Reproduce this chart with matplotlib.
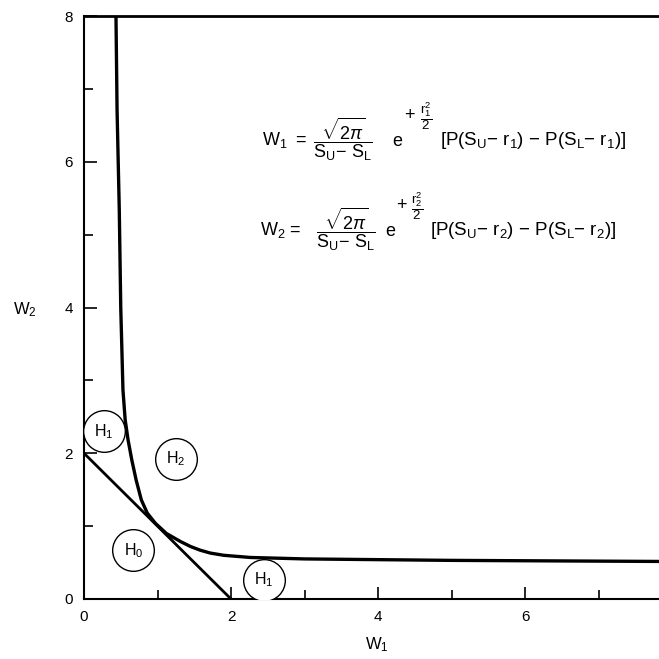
import matplotlib
matplotlib.use('Agg')
import matplotlib.pyplot as plt
from matplotlib.ticker import FixedLocator

plt.rcParams['font.family'] = ['Liberation Sans', 'DejaVu Sans']
plt.rcParams['mathtext.fontset'] = 'custom'
plt.rcParams['mathtext.rm'] = 'Liberation Sans'
plt.rcParams['mathtext.it'] = 'Liberation Sans:italic'
plt.rcParams['mathtext.sf'] = 'Liberation Sans'

# boundary curve
w1_curve = [0.435, 0.45, 0.48, 0.50, 0.53, 0.56, 0.60, 0.65, 0.71, 0.78,
            0.86, 0.97, 1.12, 1.31, 1.45, 1.58, 1.72, 1.90, 2.26, 3.0, 5.0,
            7.9]
w2_curve = [8.0, 6.7, 5.34, 4.0, 2.87, 2.46, 2.18, 1.91, 1.63, 1.36,
            1.18, 1.04, 0.90, 0.79, 0.72, 0.67, 0.63, 0.60, 0.57, 0.55, 0.53,
            0.515]

# straight line W1 + W2 = 2
w1_line = [0, 2]
w2_line = [2, 0]

# region labels
region_text = [r'H$_1$', r'H$_2$', r'H$_0$', r'H$_1$']
region_x = [0.27, 1.25, 0.67, 2.45]
region_y = [2.30, 1.92, 0.67, 0.26]

x_major = [0, 2, 4, 6]
x_minor = [1, 3, 5, 7]
y_major = [0, 2, 4, 6, 8]
y_minor = [1, 3, 5, 7]

fig = plt.figure(figsize=(6.59, 6.59), dpi=100)
ax = fig.add_axes([84 / 659, 60 / 659, 8 * 73.5 / 659, 583 / 659])

ax.plot(w1_curve, w2_curve, color='black', lw=2.4, solid_joinstyle='round')
ax.plot(w1_line, w2_line, color='black', lw=2.0)

ax.plot(region_x, region_y, 'o', ms=30, mfc='white', mec='black', mew=1.0,
        zorder=3)
for t, x, y in zip(region_text, region_x, region_y):
    ax.text(x, y, t, ha='center', va='center', fontsize=11.5, zorder=4)


def put(px, py, s, size, ha='left', va='baseline'):
    # place text by pixel position (from top-left of the figure)
    fig.text(px / 659, 1 - py / 659, s, fontsize=size, ha=ha, va=va)


def equation(n, xs, base):
    put(xs[0], base, r'W$_%d$' % n, 13)
    put(xs[1], base, '=', 13)
    put(xs[2], base - 6,
        r'$\dfrac{\sqrt{2\pi}}{\mathrm{S_U\!-\,S_L}}$', 13,
        ha='center', va='center')
    put(xs[3], base + 1, 'e', 13)
    put(xs[4], base - 29, '+', 13, ha='center', va='center')
    put(xs[5], base - 29, r'$\dfrac{\mathrm{r_%d^2}}{2}$' % n, 9.5,
        ha='center', va='center')
    put(xs[6], base,
        r'[P(S$_\mathrm{U}$− r$_%d$) − P(S$_\mathrm{L}$− r$_%d$)]' % (n, n),
        13.5)


equation(1, [262, 295, 343, 392, 409, 426, 440], 145)
equation(2, [260, 289, 346, 385, 401, 417, 430], 235)

ax.set_xlim(0, 8)
ax.set_ylim(0, 8)
ax.spines['right'].set_visible(False)
for s in ['left', 'bottom', 'top']:
    ax.spines[s].set_linewidth(1.5)
ax.spines['top'].set_linewidth(2.0)

ax.xaxis.set_major_locator(FixedLocator(x_major))
ax.xaxis.set_minor_locator(FixedLocator(x_minor))
ax.yaxis.set_major_locator(FixedLocator(y_major))
ax.yaxis.set_minor_locator(FixedLocator(y_minor))
ax.tick_params(which='both', direction='in', top=False, right=False,
               width=1.2, labelsize=11, pad=8)
ax.tick_params(which='major', length=9)
ax.tick_params(which='minor', length=6.5)

put(25, 310, r'W$_2$', 12, ha='center', va='center')
put(377, 645, r'W$_1$', 12, ha='center', va='center')

plt.savefig('out.png', dpi=100)
